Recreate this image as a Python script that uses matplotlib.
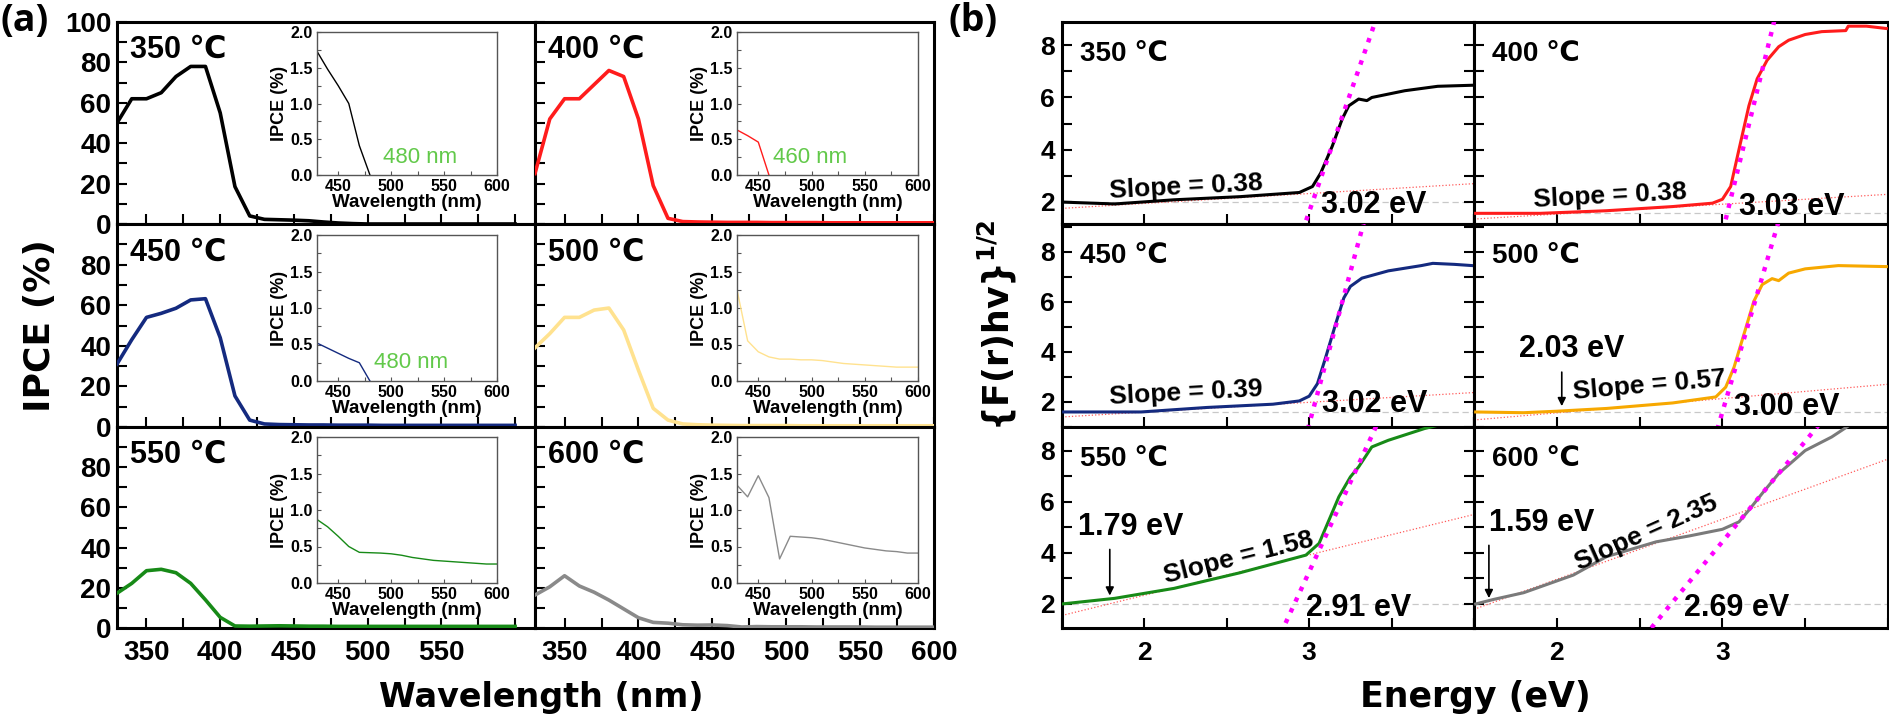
import matplotlib.pyplot as plt
from matplotlib.ticker import MultipleLocator

plt.rcParams['font.family'] = ['Liberation Sans', 'DejaVu Sans']
plt.rcParams['font.weight'] = 'bold'
plt.rcParams['axes.labelweight'] = 'bold'
plt.rcParams['mathtext.fontset'] = 'custom'
plt.rcParams['mathtext.rm'] = 'DejaVu Sans:bold'
plt.rcParams['mathtext.bf'] = 'DejaVu Sans:bold'

# ---------------- datos (a): IPCE ----------------
temperaturas = ["350 ℃", "400 ℃", "450 ℃", "500 ℃", "550 ℃", "600 ℃"]
colores_a = ["black", "#ff1c1c", "#142a7f", "#ffe28f", "#178a17", "#8a8a8a"]

longitudes = [330, 340, 350, 360, 370, 380, 390, 400, 410, 420, 430, 440, 450, 460,
              470, 480, 490, 500, 510, 520, 530, 540, 550, 560, 570, 580, 590, 600]
ipce_350 = [50, 62, 62, 65, 73, 78, 78, 55, 18.5, 4, 2.3, 2.1, 1.9, 1.6, 1.0, 0.5, 0.2, 0,
            0, 0, 0, 0, 0, 0, 0, 0, 0, 0]
ipce_400 = [25, 52, 62, 62, 69, 76, 73, 52, 19, 2.8, 1.2, 1.0, 0.9, 0.8, 0.8, 0.8, 0.7, 0.7,
            0.7, 0.7, 0.6, 0.6, 0.6, 0.6, 0.6, 0.6, 0.6, 0.6]
ipce_450 = [31, 43, 54, 56, 58.5, 62.6, 63.2, 44, 15.3, 3.4, 1.5, 1.2, 1.1, 1.0, 1.0, 0.9, 0.9, 0.9,
            0.8, 0.8, 0.8, 0.8, 0.8, 0.8, 0.8, 0.8, 0.8, 0.8]
ipce_500 = [39, 46, 54, 54, 57.6, 58.6, 47.8, 28, 9.2, 3.4, 1.5, 1.1, 0.9, 0.8, 0.7, 0.7, 0.7, 0.7,
            0.6, 0.6, 0.6, 0.6, 0.6, 0.6, 0.6, 0.6, 0.6, 0.6]
ipce_550 = [17.3, 22.2, 28.5, 29.2, 27.5, 22.2, 14, 5.3, 1.0, 0.9, 1.0, 1.1, 1.0, 0.9, 0.9, 0.8, 0.8, 0.8,
            0.8, 0.8, 0.8, 0.8, 0.8, 0.8, 0.8, 0.8, 0.8, 0.8]
ipce_600 = [16.4, 20.5, 26, 20.9, 17.8, 13.9, 9.5, 5.1, 2.8, 2.4, 1.6, 1.4, 1.5, 1.2, 0.5, 0.7, 0.6, 0.6,
            0.6, 0.5, 0.5, 0.5, 0.5, 0.4, 0.4, 0.4, 0.4, 0.4]

# insets (zona 430-600 nm)
inset_wl_350 = [430, 440, 450, 460, 470, 480]
inset_350 = [1.73, 1.48, 1.25, 1.0, 0.41, 0.0]
inset_wl_400 = [430, 440, 450, 460]
inset_400 = [0.63, 0.55, 0.46, 0.0]
inset_wl_450 = [430, 440, 450, 460, 470, 480]
inset_450 = [0.52, 0.45, 0.38, 0.31, 0.25, 0.0]
inset_wl_largo = [430, 440, 450, 460, 470, 480, 490, 500, 510, 520, 530, 540, 550, 560, 570, 580, 590, 600]
inset_500 = [1.25, 0.55, 0.40, 0.33, 0.30, 0.30, 0.29, 0.29, 0.28, 0.26, 0.24, 0.23, 0.22, 0.21, 0.20, 0.19, 0.19, 0.19]
inset_550 = [0.87, 0.77, 0.64, 0.50, 0.42, 0.415, 0.41, 0.40, 0.38, 0.35, 0.33, 0.31, 0.30, 0.29, 0.28, 0.27, 0.26, 0.26]
inset_600 = [1.34, 1.18, 1.47, 1.17, 0.33, 0.64, 0.63, 0.62, 0.60, 0.57, 0.54, 0.51, 0.48, 0.46, 0.44, 0.43, 0.41, 0.41]
corte = ["480 nm", "460 nm", "480 nm", "", "", ""]

# ---------------- datos (b): Tauc ----------------
colores_b = ["black", "#ff1c1c", "#142a7f", "#f7a800", "#178a17", "#7a7a7a"]
energia_350 = [1.51, 1.82, 2.18, 2.58, 2.94, 3.02, 3.07, 3.14, 3.20, 3.24, 3.30, 3.35, 3.38, 3.58, 3.78, 3.99]
f_350 = [1.98, 1.91, 2.07, 2.19, 2.35, 2.58, 3.10, 4.13, 5.17, 5.68, 5.94, 5.88, 6.00, 6.26, 6.43, 6.47]
energia_400 = [1.51, 1.90, 2.30, 2.70, 2.94, 3.00, 3.05, 3.10, 3.16, 3.21, 3.27, 3.34, 3.40, 3.50, 3.60, 3.745, 3.76, 3.87, 3.99]
f_400 = [1.55, 1.55, 1.65, 1.81, 1.94, 2.09, 2.58, 4.00, 5.68, 6.72, 7.43, 7.95, 8.20, 8.42, 8.53, 8.57, 8.74, 8.74, 8.65]
energia_450 = [1.51, 1.98, 2.38, 2.78, 2.94, 3.00, 3.05, 3.10, 3.16, 3.21, 3.25, 3.32, 3.48, 3.68, 3.75, 3.88, 3.99]
f_450 = [1.60, 1.60, 1.78, 1.91, 2.04, 2.23, 2.73, 3.78, 5.10, 6.15, 6.61, 6.94, 7.23, 7.44, 7.53, 7.49, 7.44]
energia_500 = [1.51, 1.80, 2.00, 2.30, 2.70, 2.96, 3.02, 3.07, 3.13, 3.19, 3.24, 3.30, 3.34, 3.40, 3.50, 3.70, 3.99]
f_500 = [1.60, 1.57, 1.63, 1.74, 1.96, 2.20, 2.59, 3.38, 4.70, 6.02, 6.68, 6.92, 6.84, 7.14, 7.31, 7.44, 7.40]
energia_550 = [1.50, 1.82, 2.18, 2.58, 2.98, 3.06, 3.12, 3.18, 3.25, 3.30, 3.38, 3.48, 3.70, 3.85]
f_550 = [2.00, 2.22, 2.61, 3.22, 3.91, 4.37, 5.28, 6.19, 6.97, 7.36, 8.14, 8.40, 8.86, 9.10]
energia_600 = [1.51, 1.62, 1.80, 2.10, 2.30, 2.60, 2.80, 3.00, 3.10, 3.16, 3.24, 3.34, 3.50, 3.66, 3.77, 3.99]
f_600 = [2.00, 2.18, 2.44, 3.13, 3.85, 4.43, 4.66, 4.92, 5.21, 5.67, 6.32, 7.10, 8.00, 8.53, 9.00, 9.00]

# ajustes lineales
band_gap = [3.02, 3.03, 3.02, 3.00, 2.91, 2.69]
nivel_base = [1.98, 1.58, 1.60, 1.60, 2.00, 2.00]
pendiente_borde = [18.2, 26.0, 24.3, 22.4, 14.0, 7.85]
pendiente_base = [0.38, 0.38, 0.39, 0.57, 1.58, 2.35]
base_en_15 = [1.74, 1.33, 1.40, 1.28, 1.55, 1.79]
sub_gap = [None, None, None, 2.03, 1.79, 1.59]

series_a = [ipce_350, ipce_400, ipce_450, ipce_500, ipce_550, ipce_600]
insets_x = [inset_wl_350, inset_wl_400, inset_wl_450, inset_wl_largo, inset_wl_largo, inset_wl_largo]
insets_y = [inset_350, inset_400, inset_450, inset_500, inset_550, inset_600]
series_bx = [energia_350, energia_400, energia_450, energia_500, energia_550, energia_600]
series_by = [f_350, f_400, f_450, f_500, f_550, f_600]

# ---------------- figura ----------------
W, H = 1889, 719
fig = plt.figure(figsize=(W / 100, H / 100), dpi=100)


def caja(x0, y0, x1, y1):
    return fig.add_axes([x0 / W, 1 - y1 / H, (x1 - x0) / W, (y1 - y0) / H])


filas = [(22, 224), (224, 427), (427, 628)]
cols_a = [(117, 535), (535, 934)]
cols_ins = [(317, 497), (737, 918)]
filas_ins = [(32, 175), (235, 381), (437, 583)]
cols_b = [(1062, 1474), (1474, 1888)]
ylim_b = [(1.14, 8.9), (1.0, 9.1), (1.06, 8.92)]

# posiciones de los textos en (b)
pos_eg = [(3.07, 1.87), (3.10, 1.81), (3.08, 1.93), (3.07, 1.80), (2.98, 1.84), (2.77, 1.83)]
pos_slope = [(2.25, 2.55, 3), (2.32, 2.22, 3), (2.25, 2.36, 3), (2.56, 2.68, 5), (2.57, 3.82, 14), (2.54, 4.80, 24)]
pos_sub = [None, None, None, (1.77, 4.11, 3.3, 1.72), (1.60, 5.02, 4.24, 2.22), (1.59, 5.15, 4.4, 2.12)]
pos_corte = [(492, 0.24), (463.6, 0.24), (483.5, 0.26)]

for i in range(6):
    fila, col = i // 2, i % 2
    y0, y1 = filas[fila]

    # ---- (a) ----
    ax = caja(cols_a[col][0], y0, cols_a[col][1], y1)
    ax.plot(longitudes, series_a[i], color=colores_a[i], lw=2.6, zorder=3)
    ax.set_xlim(330, 613.5 if col == 0 else 600)
    ax.set_ylim(0, 100)
    ax.xaxis.set_major_locator(MultipleLocator(50))
    ax.xaxis.set_minor_locator(MultipleLocator(25))
    ax.yaxis.set_minor_locator(MultipleLocator(10))
    ax.set_yticks([0, 20, 40, 60, 80, 100] if fila == 0 else [0, 20, 40, 60, 80])
    ax.tick_params(which='both', direction='in', length=7, width=1.5, labelsize=20, pad=4)
    ax.tick_params(axis='x', pad=9)
    if fila < 2:
        ax.tick_params(axis='x', labelbottom=False)
    else:
        ax.set_xticks([350, 400, 450, 500, 550] if col == 0 else [350, 400, 450, 500, 550, 600])
    if col == 1:
        ax.tick_params(axis='y', labelleft=False)
    for s in ax.spines.values():
        s.set_linewidth(2.2)
    ax.text(0.032, 0.86, temperaturas[i], transform=ax.transAxes, fontsize=22,
            ha='left', va='center')

    # inset
    ins = caja(cols_ins[col][0], filas_ins[fila][0], cols_ins[col][1], filas_ins[fila][1])
    ins.plot(insets_x[i], insets_y[i], color=colores_a[i], lw=1.0)
    ins.set_xlim(430, 600)
    ins.set_ylim(0, 2)
    ins.set_xticks([450, 500, 550, 600])
    ins.xaxis.set_minor_locator(MultipleLocator(25))
    ins.set_yticks([0, 0.5, 1.0, 1.5, 2.0])
    ins.yaxis.set_minor_locator(MultipleLocator(0.25))
    ins.tick_params(which='both', direction='in', length=3, width=0.8, color='#555555',
                    labelsize=11.5, pad=3)
    for s in ins.spines.values():
        s.set_linewidth(1.0)
        s.set_color('#555555')
    ins.set_xlabel("Wavelength (nm)", fontsize=13.5, fontweight='bold', labelpad=0)
    ins.set_ylabel("IPCE (%)", fontsize=13, fontweight='bold', labelpad=2)
    if corte[i]:
        ins.text(pos_corte[i][0], pos_corte[i][1], corte[i], color='#62c94a', fontsize=16,
                 fontweight='normal', ha='left', va='center')

    # ---- (b) ----
    bx = caja(cols_b[col][0], y0, cols_b[col][1], y1)
    bx.set_xlim(1.5, 4.0)
    bx.set_ylim(*ylim_b[fila])
    bx.axhline(nivel_base[i], color='#c8c8c8', lw=0.9, ls=(0, (5, 3)), zorder=1)
    bx.plot([1.5, 4.0], [base_en_15[i], base_en_15[i] + pendiente_base[i] * 2.5],
            color='#ff5a5a', lw=0.9, ls=':', zorder=2)
    bx.plot(series_bx[i], series_by[i], color=colores_b[i], lw=2.2, zorder=3)
    yb = [0.0, 10.0]
    bx.plot([band_gap[i] + (v - nivel_base[i]) / pendiente_borde[i] for v in yb], yb,
            color='#ff00ff', lw=3.2, ls=':', zorder=4)
    bx.set_xticks([2, 3])
    bx.xaxis.set_minor_locator(MultipleLocator(0.5))
    bx.yaxis.set_major_locator(MultipleLocator(2))
    bx.yaxis.set_minor_locator(MultipleLocator(1))
    bx.tick_params(which='both', direction='in', length=7, width=1.5, labelsize=19, pad=5,
                   right=(col == 0))
    bx.tick_params(axis='x', pad=9)
    if fila < 2:
        bx.tick_params(axis='x', labelbottom=False)
    if col == 1:
        bx.tick_params(axis='y', labelleft=False)
    for s in bx.spines.values():
        s.set_linewidth(2.2)
    bx.text(0.044, 0.84, temperaturas[i], transform=bx.transAxes, fontsize=20,
            ha='left', va='center')
    bx.text(pos_eg[i][0], pos_eg[i][1], f"{band_gap[i]:.2f} eV", fontsize=22,
            ha='left', va='center', zorder=5)
    sx, sy, rot = pos_slope[i]
    bx.text(sx, sy, f"Slope = {pendiente_base[i]:.2f}", fontsize=19, ha='center', va='center',
            rotation=rot, rotation_mode='anchor', zorder=5)
    if sub_gap[i] is not None:
        tx, ty, ya, yp = pos_sub[i]
        bx.text(tx, ty, f"{sub_gap[i]:.2f} eV", fontsize=22, ha='left', va='center')
        bx.annotate("", xy=(sub_gap[i], yp), xytext=(sub_gap[i], ya),
                    arrowprops=dict(arrowstyle='-|>', color='black', lw=1.2, mutation_scale=12))

# etiquetas generales
fig.text(0 / W, 1 - 21 / H, "(a)", fontsize=27, family='Open Sans', fontweight='bold',
         ha='left', va='center')
fig.text(948 / W, 1 - 21 / H, "(b)", fontsize=27, family='Open Sans', fontweight='bold',
         ha='left', va='center')
fig.text(40 / W, 1 - 326 / H, "IPCE (%)", rotation=90, fontsize=26, family='DejaVu Sans',
         fontweight='bold', ha='center', va='center')
fig.text(541 / W, 1 - 697 / H, "Wavelength (nm)", fontsize=24, family='DejaVu Sans',
         fontweight='bold', ha='center', va='center')
fig.text(1475 / W, 1 - 697 / H, "Energy (eV)", fontsize=25, family='DejaVu Sans',
         fontweight='bold', ha='center', va='center')
fig.text(997 / W, 1 - 325 / H, r"{F(r)hv}$^{\mathbf{1/2}}$", rotation=90, fontsize=25,
         family='DejaVu Sans', fontweight='bold', ha='center', va='center')

fig.savefig("out.png", dpi=100)
